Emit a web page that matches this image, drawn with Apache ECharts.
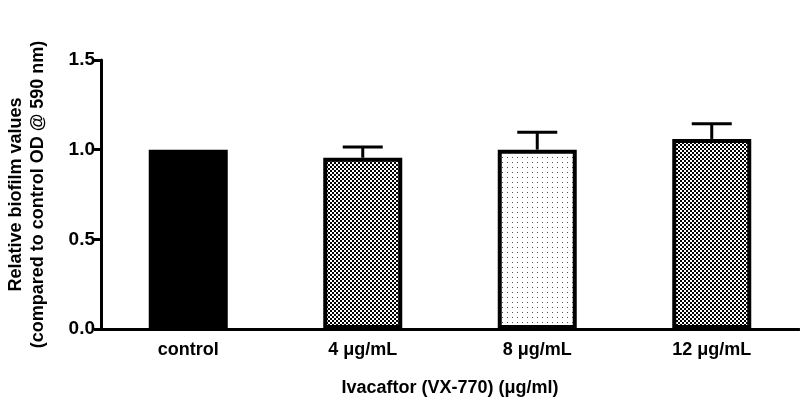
<!DOCTYPE html>
<html>
<head>
<meta charset="utf-8">
<script src="https://cdn.jsdelivr.net/npm/echarts@6/dist/echarts.min.js"></script>
<style>
html,body{margin:0;padding:0;background:#fff;}
#chart{width:800px;height:419px;}
</style>
</head>
<body>
<div id="chart"></div>
<script>
// ---- data ----
const categories = ['control', '4 \u03bcg/mL', '8 \u03bcg/mL', '12 \u03bcg/mL'];
const meanValues = [1.0, 0.955, 1.0, 1.06];
const semValues = [0, 0.06, 0.097, 0.085];
const yTicks = [0.0, 0.5, 1.0, 1.5];
const xTitle = 'Ivacaftor (VX-770) (\u03bcg/ml)';
const yTitle = 'Relative biofilm values\n(compared to control OD @ 590 nm)';

// ---- patterns ----
function checker() {
  const c = document.createElement('canvas');
  c.width = 4; c.height = 4;
  const g = c.getContext('2d');
  g.fillStyle = '#fff'; g.fillRect(0, 0, 4, 4);
  g.fillStyle = '#000';
  g.fillRect(0, 0, 2, 2); g.fillRect(2, 2, 2, 2);
  return c;
}
function dots() {
  const c = document.createElement('canvas');
  c.width = 5; c.height = 5;
  const g = c.getContext('2d');
  g.fillStyle = '#fff'; g.fillRect(0, 0, 5, 5);
  g.fillStyle = '#555';
  g.fillRect(2, 2, 1, 1);
  return c;
}
const fills = [
  '#000',
  { image: checker(), repeat: 'repeat' },
  { image: dots(), repeat: 'repeat' },
  { image: checker(), repeat: 'repeat' }
];

const font = 'Liberation Sans, Arial, sans-serif';
const chart = echarts.init(document.getElementById('chart'), null, { renderer: 'canvas' });

chart.setOption({
  animation: false,
  backgroundColor: '#fff',
  grid: { left: 101, right: 1, top: 60, bottom: 90, containLabel: false, outerBoundsMode: 'none' },
  xAxis: {
    type: 'category',
    data: categories,
    name: xTitle,
    nameLocation: 'middle',
    nameGap: 50,
    nameTextStyle: { fontFamily: font, fontWeight: 'bold', fontSize: 18, color: '#000' },
    axisLine: { lineStyle: { color: '#000', width: 3 } },
    axisTick: { alignWithLabel: true, length: 7, lineStyle: { color: '#000', width: 3 } },
    axisLabel: { fontFamily: font, fontWeight: 'bold', fontSize: 18, color: '#000', margin: 12 },
    splitLine: { show: false }
  },
  yAxis: {
    type: 'value',
    min: 0, max: 1.5, interval: 0.5,
    name: yTitle,
    nameLocation: 'middle',
    nameGap: 52,
    nameTextStyle: { fontFamily: font, fontWeight: 'bold', fontSize: 18, color: '#000', lineHeight: 22, align: 'center' },
    axisLine: { show: true, lineStyle: { color: '#000', width: 3 } },
    axisTick: { show: true, length: 7, lineStyle: { color: '#000', width: 3 } },
    axisLabel: { fontFamily: font, fontWeight: 'bold', fontSize: 19, color: '#000', margin: 6,
      formatter: v => (yTicks.indexOf(v) >= 0 ? v.toFixed(1) : '') },
    splitLine: { show: false }
  },
  series: [
    {
      type: 'bar',
      barWidth: 79,
      data: meanValues.map((v, i) => ({
        value: v,
        itemStyle: { color: fills[i], borderColor: '#000', borderWidth: 4 }
      })),
      z: 2
    },
    {
      type: 'custom',
      z: 3,
      data: meanValues.map((v, i) => [i, v, semValues[i]]),
      renderItem: function (params, api) {
        const i = api.value(0), m = api.value(1), e = api.value(2);
        if (!e) return null;
        const p0 = api.coord([i, m]);
        const p1 = api.coord([i, m + e]);
        const hw = 20;
        return {
          type: 'group',
          children: [
            { type: 'line', shape: { x1: p0[0], y1: p0[1], x2: p1[0], y2: p1[1] }, style: { stroke: '#000', lineWidth: 3 } },
            { type: 'line', shape: { x1: p1[0] - hw, y1: p1[1], x2: p1[0] + hw, y2: p1[1] }, style: { stroke: '#000', lineWidth: 3 } }
          ]
        };
      }
    }
  ]
});
</script>
</body>
</html>
